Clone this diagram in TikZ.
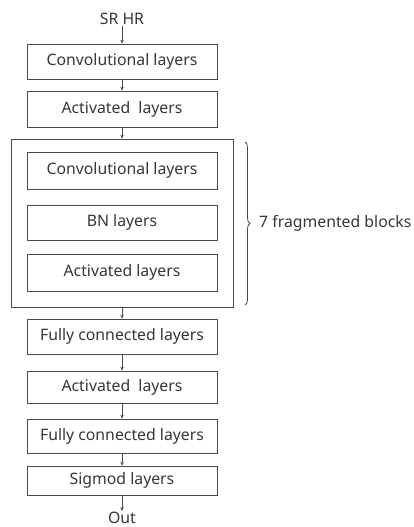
\documentclass[tikz,border=0pt]{standalone}
\usepackage{fontspec}
\setmainfont{Noto Sans}
\usetikzlibrary{arrows.meta,decorations.pathreplacing}
\definecolor{ln}{HTML}{4A4A4A}
\definecolor{tx}{HTML}{363636}
\begin{document}
\begin{tikzpicture}[x=1pt,y=-1pt,
  layer/.style={draw=ln,line width=0.9pt,minimum width=190pt,inner sep=0pt,text=tx,font=\fontsize{15.8}{17}\selectfont},
  lbl/.style={text=tx,inner sep=1pt,font=\fontsize{15.8}{17}\selectfont},
  conn/.style={draw=ln,line width=0.8pt,-{Stealth[length=3.8pt,width=3.6pt]}}]
\useasboundingbox (0,0) rectangle (414,527);
\node[lbl] (in) at (122,19) {SR HR};
\node[layer,minimum height=35pt] (c1) at (122,61.5) {Convolutional layers};
\node[layer,minimum height=36pt] (a1) at (122,109) {Activated\ \ layers};
\node[draw=ln,line width=0.9pt,minimum width=222pt,minimum height=168pt,inner sep=0pt] (blk) at (122,223) {};
\node[layer,minimum height=37pt] (c2) at (122,170.5) {Convolutional layers};
\node[layer,minimum height=35pt] (bn) at (122,222.5) {BN layers};
\node[layer,minimum height=37pt] (a2) at (122,272.5) {Activated layers};
\node[layer,minimum height=35pt] (f1) at (122,336.5) {Fully connected layers};
\node[layer,minimum height=32pt] (a3) at (122,387) {Activated\ \ layers};
\node[layer,minimum height=34pt] (f2) at (122,436) {Fully connected layers};
\node[layer,minimum height=29pt] (sg) at (122,480.5) {Sigmod layers};
\node[lbl] (out) at (122,518) {Out};
\coordinate (bt) at (245,142);
\coordinate (bb) at (245,305);
\draw[ln,line width=0.8pt,decorate,decoration={brace,amplitude=5pt}] (bt) -- (bb);
\node[lbl,anchor=west] (br) at (258,223) {7 fragmented blocks};
\draw[conn] (in) -- (c1);
\draw[conn] (c1) -- (a1);
\draw[conn] (a1) -- (blk);
\draw[conn] (blk) -- (f1);
\draw[conn] (f1) -- (a3);
\draw[conn] (a3) -- (f2);
\draw[conn] (f2) -- (sg);
\draw[conn] (sg) -- (out);
\end{tikzpicture}
\end{document}
